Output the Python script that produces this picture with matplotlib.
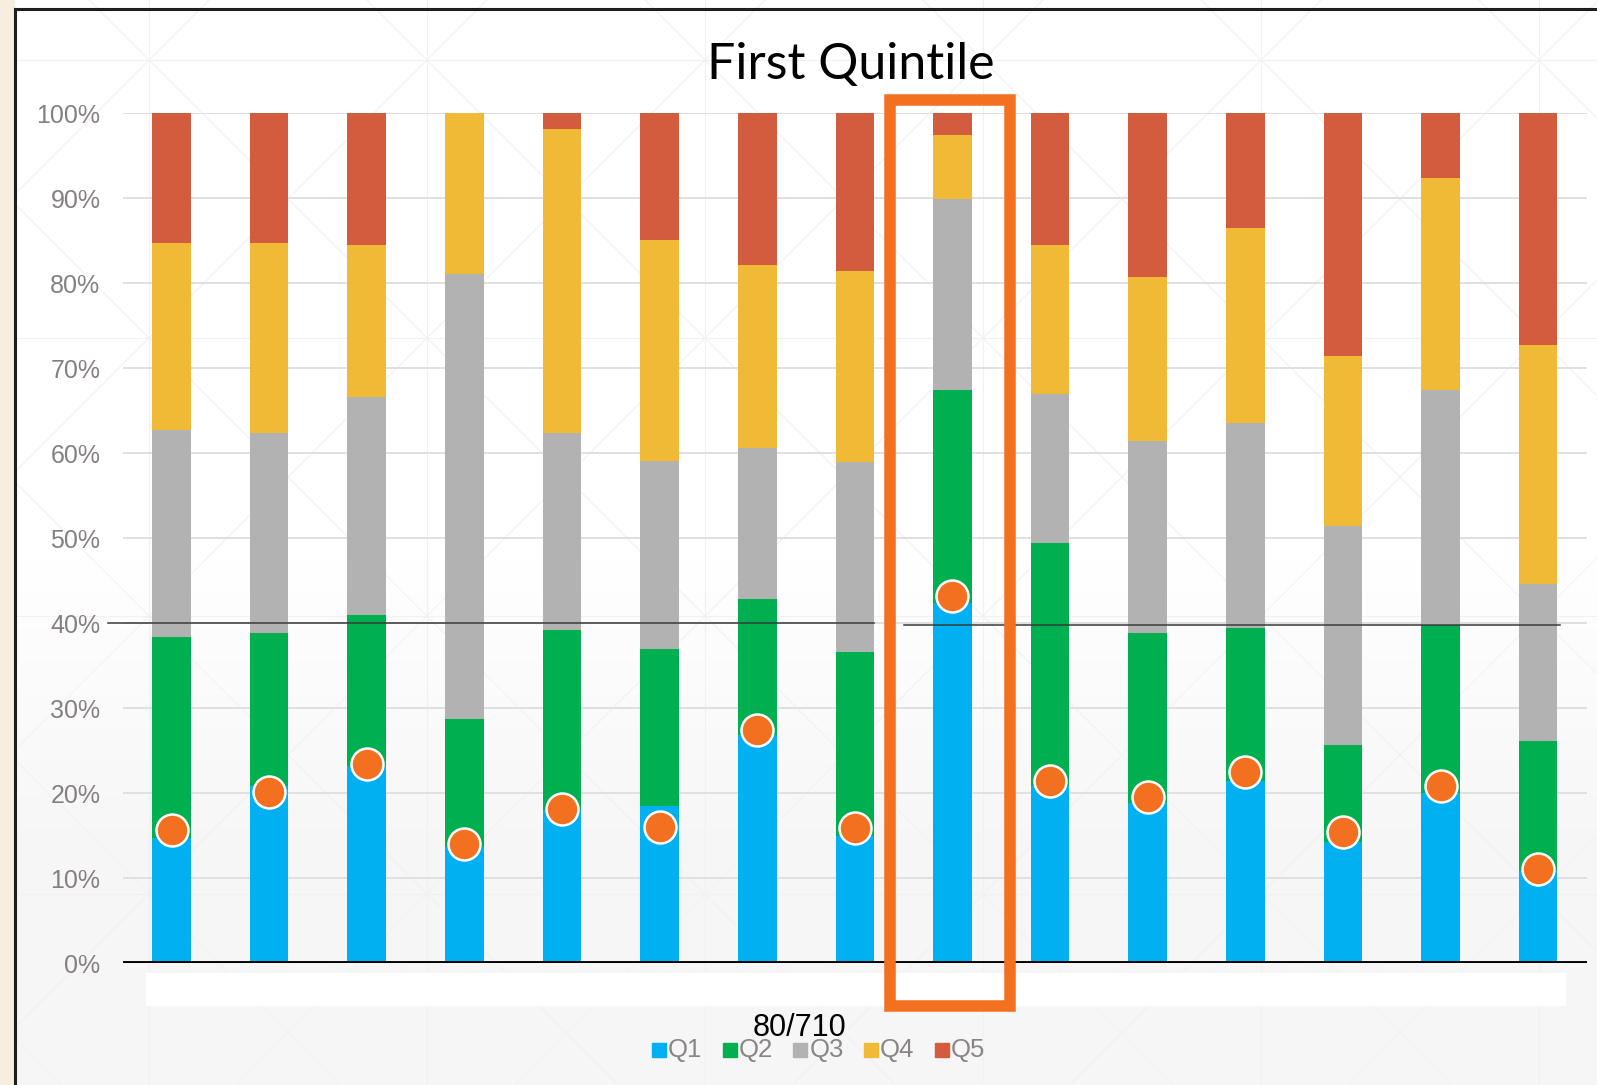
import numpy as np
import matplotlib
matplotlib.use("Agg")
import matplotlib.pyplot as plt
from matplotlib.patches import Rectangle

# quintile shares (%) for each of the 15 groups, bottom to top
q1 = [14.7, 20.8, 23.2, 13.7, 18.0, 18.5, 26.9, 15.0, 42.4, 20.9, 18.8, 21.5, 14.3, 20.0, 10.8]
q2 = [23.7, 18.0, 17.8, 15.0, 21.2, 18.5, 15.9, 21.6, 25.0, 28.5, 20.0, 18.0, 11.4, 19.8, 15.4]
q3 = [24.3, 23.6, 25.6, 52.4, 23.2, 22.1, 17.8, 22.4, 22.5, 17.6, 22.6, 24.1, 25.7, 27.6, 18.4]
q4 = [22.0, 22.3, 17.9, 18.9, 35.8, 26.0, 21.5, 22.4, 7.6, 17.5, 19.3, 22.9, 20.0, 25.0, 28.1]
q5 = [15.3, 15.3, 15.5, 0.0, 1.8, 14.9, 17.9, 18.6, 2.5, 15.5, 19.3, 13.5, 28.6, 7.6, 27.3]
# first-quintile markers
dots = [15.7, 20.1, 23.4, 14.0, 18.1, 16.0, 27.5, 15.9, 43.2, 21.5, 19.6, 22.5, 15.5, 20.9, 11.1]

labels = ["Q1", "Q2", "Q3", "Q4", "Q5"]
colors = ["#00b0f0", "#00b050", "#b2b2b2", "#f0ba36", "#d35b3e"]
yticks = [0, 10, 20, 30, 40, 50, 60, 70, 80, 90, 100]
highlight = 8
ref_level = 40

W, H = 1597, 1085
fig = plt.figure(figsize=(W / 100, H / 100), dpi=100)

# background: white fading to light grey, faint diagonal texture
bg = fig.add_axes([0, 0, 1, 1], zorder=-10)
grad = np.ones((H, 1))
rows = np.arange(H)
grad[:, 0] = np.where(rows < 560, 1.0, 1.0 - 0.035 * np.clip((rows - 560) / 300, 0, 1))
bg.imshow(np.dstack([grad, grad, grad]), aspect="auto", extent=[0, W, H, 0], interpolation="bilinear")
bg.set_xlim(0, W)
bg.set_ylim(H, 0)
bg.axis("off")
cell = 278
for gx in np.arange(149 - cell, W + cell, cell):
    bg.plot([gx, gx], [0, H], color="#f1f1f1", lw=0.8)
    for gy in np.arange(60 - cell, H + cell, cell):
        bg.plot([gx, gx + cell], [gy, gy + cell], color="#f2f2f2", lw=0.8)
        bg.plot([gx, gx + cell], [gy + cell, gy], color="#f2f2f2", lw=0.8)
for gy in np.arange(60, H, cell):
    bg.plot([0, W], [gy, gy], color="#f1f1f1", lw=0.8)
bg.add_patch(Rectangle((0, 0), 14, H, color="#f6efdf", zorder=3))
bg.add_patch(Rectangle((145.6, 973), 1565 - 145.6, 32, color="white", zorder=3))
bg.plot([14.5, 14.5], [9, H], color="#1e1e1e", lw=2.2, zorder=4)
bg.plot([14.5, W], [9, 9], color="#1e1e1e", lw=2.2, zorder=4)

ax = fig.add_axes([122.7 / W, 1 - 963.3 / H, (1587 - 122.7) / W, (963.3 - 113.3) / H])
ax.set_facecolor("none")

x = np.arange(len(q1))
bottom = np.zeros(len(q1))
for vals, lab, col in zip([q1, q2, q3, q4, q5], labels, colors):
    ax.bar(x, vals, 0.395, bottom=bottom, color=col, label=lab, zorder=2)
    bottom += np.array(vals)

ax.plot(x, dots, "o", ms=23, mfc="#f37021", mec="white", mew=1.8, zorder=4, clip_on=False)

# 40% reference line
ax.plot([-0.654, 7.2], [ref_level + 0.05, ref_level + 0.05], color="#3a3a3a", lw=1.1, zorder=3, clip_on=False)
ax.plot([7.5, 14.22], [ref_level - 0.15, ref_level - 0.15], color="#3a3a3a", lw=1.1, zorder=3, clip_on=False)

ax.axhline(0, color="black", lw=2.8, zorder=3)

ax.add_patch(Rectangle((highlight - 0.637, -5.0), 1.229, 106.6, fill=False,
                       ec="#f37021", lw=8.3, joinstyle="miter", clip_on=False, zorder=6))

ax.set_xlim(-0.5, 14.5)
ax.set_ylim(0, 100)
ax.set_xticks([])
ax.set_yticks(yticks)
ax.set_yticklabels(["%d%%" % t for t in yticks], fontsize=18, color="#858080",
                   fontfamily="Liberation Sans")
ax.tick_params(axis="y", length=0, pad=16)
ax.grid(axis="y", color="#e0e0e0", lw=1.4, zorder=0)
for s in ax.spines.values():
    s.set_visible(False)

fig.text(851 / W, 1 - 65 / H, "First Quintile", fontsize=36, family="Lato",
         ha="center", va="center", color="black")
fig.text(799.2 / W, 1 - 1027.5 / H, "80/710", fontsize=22, family="Liberation Sans",
         ha="center", va="center", color="black", zorder=10)

# legend row
for i, (lab, col) in enumerate(zip(labels, colors)):
    lx = 651.7 + i * 70.8
    fig.add_artist(Rectangle((lx / W, 1 - 1056.5 / H), 14 / W, 14 / H, color=col,
                             transform=fig.transFigure))
    fig.text((lx + 16) / W, 1 - 1050 / H, lab, fontsize=18.5, family="Liberation Sans",
             color="#8a8585", ha="left", va="center")

fig.savefig("out.png", dpi=100)
